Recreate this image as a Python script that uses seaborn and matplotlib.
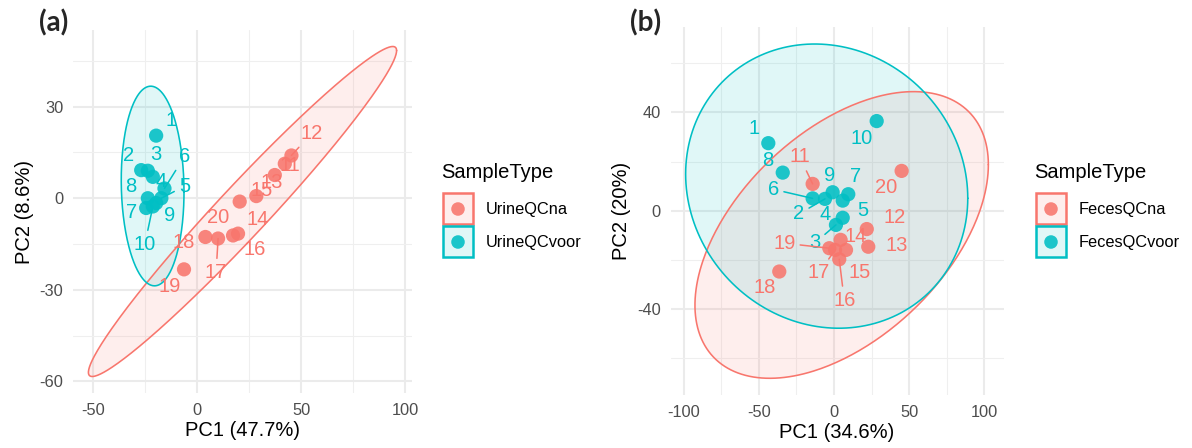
import numpy as np
import pandas as pd
import matplotlib
matplotlib.use("Agg")
import matplotlib.pyplot as plt
import seaborn as sns
from matplotlib.patches import Rectangle

# ---------------- data: panel (a) ----------------
a_ids = [str(i) for i in range(1, 21)]
a_groups = ["UrineQCna", "UrineQCvoor"]
a_type = ["UrineQCvoor"] * 10 + ["UrineQCna"] * 10
a_pc1 = [-19.8, -27.0, -23.8, -21.4, -17.3, -15.8, -24.6, -23.8, -19.8, -21.4,
         42.1, 45.3, 37.3, 20.4, 28.4, 19.6, 10.0, 3.9, -6.4, 17.2]
a_pc2 = [20.5, 9.2, 9.0, 7.0, 0.0, 3.2, -3.2, 0.0, -1.6, -2.7,
         11.3, 14.0, 7.6, -1.1, 0.7, -11.6, -13.2, -12.7, -23.3, -12.2]
# ellipse (centre, half extents, correlation) per group, order of a_groups
a_ell_cx = [21.75, -21.5]
a_ell_cy = [-4.35, 4.0]
a_ell_hx = [74.15, 15.1]
a_ell_hy = [54.05, 32.7]
a_ell_rho = [0.975, -0.06]
a_xlabel = "PC1 (47.7%)"
a_ylabel = "PC2 (8.6%)"
a_xticks = [-50, 0, 50, 100]
a_yticks = [-60, -30, 0, 30]

# ---------------- data: panel (b) ----------------
b_ids = [str(i) for i in range(1, 21)]
b_groups = ["FecesQCna", "FecesQCvoor"]
b_type = ["FecesQCvoor"] * 10 + ["FecesQCna"] * 10
b_pc1 = [-43.7, -6.0, 1.3, 5.8, 5.8, -14.2, 9.5, -34.1, -0.9, 28.4,
         -14.2, 21.8, 22.8, 4.4, 8.0, 3.5, 0.7, -36.4, -3.1, 45.0]
b_pc2 = [27.5, 4.8, -5.8, 4.1, -2.9, 5.0, 6.7, 15.5, 7.5, 36.5,
         10.9, -7.5, -14.7, -11.9, -16.0, -19.8, -16.0, -24.8, -15.3, 16.2]
b_ell_cx = [5.1, -4.85]
b_ell_cy = [-9.9, 10.0]
b_ell_hx = [97.6, 93.85]
b_ell_hy = [58.4, 57.9]
b_ell_rho = [0.49, -0.085]
b_xlabel = "PC1 (34.6%)"
b_ylabel = "PC2 (20%)"
b_xticks = [-100, -50, 0, 50, 100]
b_yticks = [-40, 0, 40]

legend_title = "SampleType"

# label placement (pixel offsets, layout only) and segment flags
a_lab_off = [(15, 15), (-13, 15), (8, 16), (8, -5), (23, 12), (20, 32), (-15, -5),
             (-17, 12), (13, -12), (-8, -38), (5, -2), (20, 22), (-3, -7),
             (18, -18), (5, 6), (17, -16), (-2, -34), (-22, -6), (-14, -17), (-15, 18)]
a_lab_seg = [0, 0, 0, 0, 1, 1, 0, 0, 0, 1, 0, 1, 0, 0, 0, 0, 1, 0, 0, 0]
b_lab_off = [(-14, 15), (-26, -15), (-21, -18), (-18, -14), (20, 7), (-39, 9), (7, 18),
             (-15, 12), (-3, 17), (-15, -17), (-13, 27), (28, 12), (28, 1),
             (15, 3), (14, -23), (5, -41), (-16, -23), (-15, -16), (-45, 5), (-16, -17)]
b_lab_seg = [0, 1, 1, 0, 0, 1, 0, 0, 0, 0, 1, 0, 0, 0, 0, 1, 1, 0, 1, 0]

COLORS = ["#F8766D", "#00BFC4"]
FONT = "Liberation Sans"
W, H = 1192, 448

sns.set_theme(style="white")
plt.rcParams["font.family"] = [FONT, "DejaVu Sans"]
plt.rcParams["axes.unicode_minus"] = False


def ellipse_xy(cx, cy, hx, hy, rho, n=361):
    t = np.linspace(0, 2 * np.pi, n)
    x = cx + hx * np.cos(t)
    y = cy + hy * (rho * np.cos(t) + np.sqrt(1 - rho ** 2) * np.sin(t))
    return x, y


def minor_between(t):
    t = np.asarray(t, float)
    st = np.diff(t)[0]
    return np.concatenate([[t[0] - st / 2], t[:-1] + np.diff(t) / 2, [t[-1] + st / 2]])


def legend_box(fig, x0, groups, pal):
    # pixel-space axes for a ggplot-style legend
    lax = fig.add_axes([x0 / W, 1 - 275 / H, 170 / W, 130 / H])
    lax.set_xlim(x0, x0 + 170)
    lax.set_ylim(275, 145)
    lax.axis("off")
    lax.text(x0 + 0.5, 173, legend_title, fontsize=14.5, ha="left", va="center",
             color="black")
    for k, g in enumerate(groups):
        top = 193.5 + k * 33
        lax.add_patch(Rectangle((x0 + 2, top), 30, 31,
                                facecolor=matplotlib.colors.to_rgba(pal[g], 0.12),
                                edgecolor=pal[g], lw=1.8))
        lax.scatter([x0 + 17], [top + 15.5], s=95, color=pal[g], alpha=0.88,
                    edgecolor="none")
        lax.text(x0 + 45, top + 16, g, fontsize=11.8, ha="left", va="center",
                 color="black")


def panel(ax, ids, types, pc1, pc2, groups, ecx, ecy, ehx, ehy, erho,
          offs, segs, xlabel, ylabel, xticks, yticks, fig, leg_x):
    df = pd.DataFrame({"id": ids, "SampleType": types, "PC1": pc1, "PC2": pc2})
    pal = dict(zip(groups, COLORS))
    xs, ys = [], []
    for g, cx, cy, hx, hy, r in zip(groups, ecx, ecy, ehx, ehy, erho):
        ex, ey = ellipse_xy(cx, cy, hx, hy, r)
        xs.append(ex); ys.append(ey)
        ax.fill(ex, ey, facecolor=pal[g], alpha=0.12, edgecolor="none", zorder=1)
        ax.plot(ex, ey, color=pal[g], lw=1.15, zorder=2)

    # labels (under points)
    for i, row in df.iterrows():
        c = pal[row["SampleType"]]
        ox, oy = offs[i]
        kw = {}
        if segs[i]:
            kw["arrowprops"] = dict(arrowstyle="-", color=c, lw=1.1,
                                    shrinkA=1, shrinkB=0)
        ax.annotate(row["id"], (row["PC1"], row["PC2"]), xytext=(ox, oy),
                    textcoords="offset pixels", ha="center", va="center",
                    color=c, fontsize=14.5, zorder=3, **kw)

    sns.scatterplot(data=df, x="PC1", y="PC2", hue="SampleType", palette=pal,
                    hue_order=groups, s=105, alpha=0.88, edgecolor="none",
                    legend=False, ax=ax, zorder=4)

    # grid like theme_minimal
    ax.set_xticks(xticks)
    ax.set_yticks(yticks)
    ax.set_xticks(minor_between(xticks), minor=True)
    ax.set_yticks(minor_between(yticks), minor=True)
    allx = np.concatenate(xs + [np.asarray(pc1)])
    ally = np.concatenate(ys + [np.asarray(pc2)])
    dx = (allx.max() - allx.min()) * 0.05
    dy = (ally.max() - ally.min()) * 0.05
    ax.set_xlim(allx.min() - dx, allx.max() + dx)
    ax.set_ylim(ally.min() - dy, ally.max() + dy)
    ax.grid(which="major", color="#EBEBEB", lw=1.5, zorder=0)
    ax.grid(which="minor", color="#EFEFEF", lw=0.8, zorder=0)
    ax.set_axisbelow(True)
    for s in ax.spines.values():
        s.set_visible(False)
    ax.tick_params(which="both", length=0, labelsize=11.8, labelcolor="#4D4D4D", pad=7)
    ax.set_xlabel(xlabel, fontsize=14.5, color="black", labelpad=2)
    ax.set_ylabel(ylabel, fontsize=14.5, color="black", labelpad=4)
    ax.set_facecolor("white")

    legend_box(fig, leg_x, groups, pal)


fig = plt.figure(figsize=(W / 100, H / 100), dpi=100)
axa = fig.add_axes([73 / W, 1 - 393 / H, 339 / W, 363 / H])
axb = fig.add_axes([670.5 / W, 1 - 395 / H, 333 / W, 367.7 / H])

panel(axa, a_ids, a_type, a_pc1, a_pc2, a_groups, a_ell_cx, a_ell_cy, a_ell_hx,
      a_ell_hy, a_ell_rho, a_lab_off, a_lab_seg, a_xlabel, a_ylabel, a_xticks,
      a_yticks, fig, 441)
panel(axb, b_ids, b_type, b_pc1, b_pc2, b_groups, b_ell_cx, b_ell_cy, b_ell_hx,
      b_ell_hy, b_ell_rho, b_lab_off, b_lab_seg, b_xlabel, b_ylabel, b_xticks,
      b_yticks, fig, 1034)

fig.text(53.5 / W, 1 - 23 / H, "(a)", fontsize=20, fontweight="bold",
         family="Lato", ha="center", va="center")
fig.text(645.5 / W, 1 - 23 / H, "(b)", fontsize=20, fontweight="bold",
         family="Lato", ha="center", va="center")

fig.savefig("out.png", dpi=100, facecolor="white")
